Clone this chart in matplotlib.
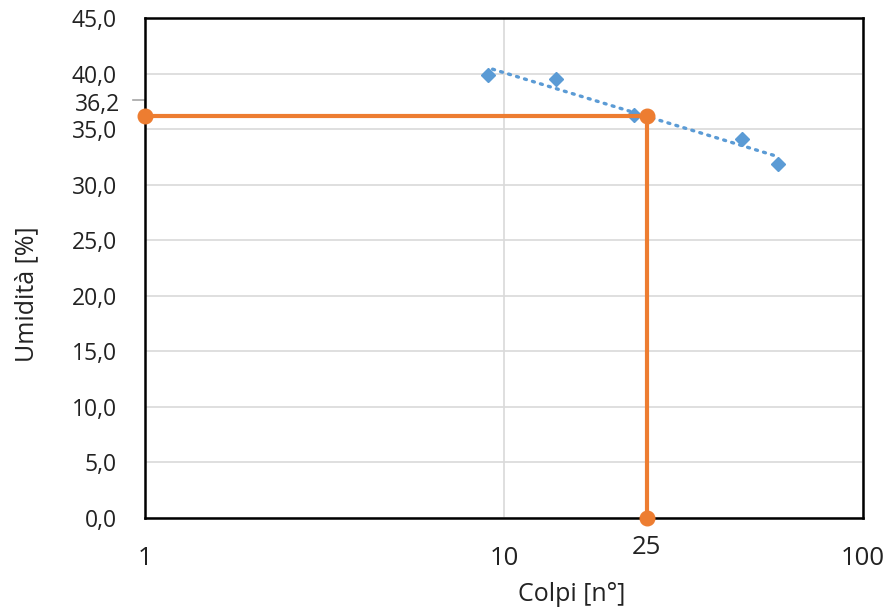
import numpy as np
import matplotlib.pyplot as plt
from matplotlib.ticker import FixedLocator, FuncFormatter, NullLocator
from matplotlib.transforms import offset_copy

plt.rcParams['font.family'] = ['Open Sans', 'DejaVu Sans']

# Dati sperimentali
colpi = [9, 14, 23, 46, 58]
umidita = [39.9, 39.5, 36.3, 34.1, 31.9]

# Limite di liquidità a 25 colpi
colpi_ll = 25
umidita_ll = 36.2

# Retta di tendenza logaritmica
a, b = np.polyfit(np.log(colpi), umidita, 1)
x_trend = np.linspace(9.3, max(colpi), 50)
y_trend = a * np.log(x_trend) + b

fig = plt.figure(figsize=(8.88, 6.12), dpi=100)
ax = fig.add_axes([0.163, 0.1536, 0.809, 0.817])

ax.set_xscale('log')
ax.set_xlim(1, 100)
ax.set_ylim(0, 45)

ax.yaxis.grid(True, color='#d9d9d9', linewidth=1.2)
ax.xaxis.grid(True, color='#d9d9d9', linewidth=1.2)
ax.set_axisbelow(True)

ax.plot(x_trend, y_trend, linestyle=(0, (0.6, 1.9)), color='#5b9bd5', linewidth=2.4,
        dash_capstyle='round')
ax.plot(colpi, umidita, linestyle='none', marker='D', markersize=7.5, color='#5b9bd5')

ax.plot([1, colpi_ll, colpi_ll], [umidita_ll, umidita_ll, 0],
        color='#ed7d31', linewidth=3, marker='o', markersize=10.5, clip_on=False, zorder=5)

ax.xaxis.set_major_locator(FixedLocator([1, 10, 100]))
ax.xaxis.set_minor_locator(NullLocator())
ax.xaxis.set_major_formatter(FuncFormatter(lambda v, p: f'{v:.0f}'))
ax.set_yticks(np.arange(0, 46, 5))
ax.yaxis.set_major_formatter(FuncFormatter(lambda v, p: f'{v:.1f}'.replace('.', ',')))
ax.tick_params(axis='both', length=0, colors='#222222')
ax.tick_params(axis='y', labelsize=16.5, pad=20)
ax.tick_params(axis='x', labelsize=18.5, pad=20)

# etichette extra 25 e 36,2
ax.text(colpi_ll, 0, '25',
        transform=offset_copy(ax.get_xaxis_transform(), fig=fig, y=-12, units='points'),
        ha='center', va='top', fontsize=18.5, color='#222222')
ax.annotate('36,2', xy=(1, umidita_ll + 1.0), xytext=(-18, 0), textcoords='offset points',
            ha='right', va='center', fontsize=16.5, color='#222222')
ax.plot([0.93, 1, 1], [umidita_ll + 1.4, umidita_ll + 1.4, umidita_ll + 0.6],
        color='#a6a6a6', linewidth=1.2, clip_on=False)

for s in ax.spines.values():
    s.set_color('black')
    s.set_linewidth(1.8)

ax.set_xlabel('Colpi [n°]', fontsize=18, color='#222222', va='center')
ax.xaxis.set_label_coords(0.595, -0.154)
ax.set_ylabel('Umidità [%]', fontsize=18, color='#222222', va='center')
ax.yaxis.set_label_coords(-0.164, 0.448)

fig.savefig('out.png', dpi=100)
